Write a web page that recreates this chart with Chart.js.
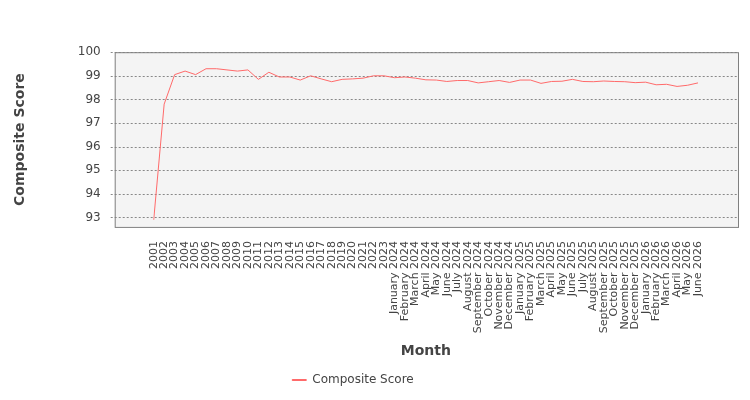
<!DOCTYPE html>
<html>
<head>
<meta charset="utf-8">
<script src="https://cdn.jsdelivr.net/npm/chart.js@4"></script>
<style>
  body { margin: 0; background: #fff; }
  #wrap { width: 750px; height: 400px; }
</style>
</head>
<body>
<div id="wrap"><canvas id="chart"></canvas></div>
<script>
const months = ['January', 'February', 'March', 'April', 'May', 'June', 'July', 'August', 'September', 'October', 'November', 'December'];
const yearLabels = ['2001','2002','2003','2004','2005','2006','2007','2008','2009','2010','2011','2012','2013','2014','2015','2016','2017','2018','2019','2020','2021','2022','2023'];
const monthLabels = months.map(m => m + ' 2024')
    .concat(months.map(m => m + ' 2025'))
    .concat(months.slice(0, 6).map(m => m + ' 2026'));
const labels = yearLabels.concat(monthLabels);

const compositeScore = [
    92.9, 97.8, 99.05, 99.2, 99.05, 99.3, 99.3, 99.25, 99.2, 99.25,
    98.85, 99.15, 98.95, 98.95, 98.82, 99.0, 98.87, 98.75, 98.85, 98.87,
    98.9, 99.0, 99.0,
    98.92, 98.95, 98.9, 98.83, 98.82, 98.76, 98.8, 98.8, 98.7, 98.75, 98.8, 98.72,
    98.82, 98.82, 98.68, 98.76, 98.77, 98.85, 98.76, 98.75, 98.78, 98.76, 98.75, 98.71,
    98.73, 98.62, 98.64, 98.55, 98.6, 98.7
];

const yTicks = [93, 94, 95, 96, 97, 98, 99, 100];
const font = { family: "'DejaVu Sans', sans-serif", size: 12 };
const PAD_L = 39, PAD_R = 40;

// grey plot box + dashed grid, wider than the chart area
const plotBg = {
    id: 'plotBg',
    beforeDatasetsDraw(chart) {
        const { ctx, chartArea: a, scales } = chart;
        const l = a.left - PAD_L, r = a.right + PAD_R;
        ctx.save();
        ctx.fillStyle = '#f4f4f4';
        ctx.fillRect(l, a.top, r - l, a.bottom - a.top);
        ctx.strokeStyle = '#888';
        ctx.setLineDash([2, 2]);
        yTicks.forEach(v => {
            const y = Math.round(scales.y.getPixelForValue(v)) + 0.5;
            ctx.beginPath(); ctx.moveTo(l - 4, y); ctx.lineTo(r, y); ctx.stroke();
        });
        ctx.setLineDash([]);
        ctx.strokeStyle = '#808080';
        ctx.strokeRect(l + 0.5, a.top + 0.5, r - l, a.bottom - a.top);
        ctx.restore();
    }
};

new Chart(document.getElementById('chart'), {
    type: 'line',
    data: {
        labels: labels,
        datasets: [{
            label: 'Composite Score',
            data: compositeScore,
            borderColor: '#ff6a6a',
            backgroundColor: '#ff6a6a',
            borderWidth: 1,
            pointRadius: 0,
            tension: 0
        }]
    },
    options: {
        responsive: true,
        maintainAspectRatio: false,
        animation: false,
        layout: { padding: { left: 8, right: 52, top: 9, bottom: 4 } },
        scales: {
            x: {
                offset: false,
                grid: { display: false },
                border: { display: false },
                ticks: { font: { family: "'DejaVu Sans', sans-serif", size: 11 }, color: '#444', autoSkip: false, maxRotation: 90, minRotation: 90, padding: 6 },
                title: { display: true, text: 'Month', font: { family: "'DejaVu Sans', sans-serif", size: 14, weight: 'bold' }, color: '#444' }
            },
            y: {
                min: 92.6,
                max: 100,
                afterBuildTicks(axis) {
                    axis.ticks = yTicks.map(v => ({ value: v }));
                },
                grid: { display: false },
                border: { display: false },
                ticks: { font: font, color: '#444', padding: PAD_L + 6 },
                title: { display: true, text: 'Composite Score', font: { family: "'DejaVu Sans', sans-serif", size: 14, weight: 'bold' }, color: '#444' }
            }
        },
        plugins: {
            legend: {
                position: 'bottom',
                labels: { font: font, color: '#444', boxWidth: 14, boxHeight: 1 }
            },
            tooltip: { enabled: false }
        }
    },
    plugins: [plotBg]
});
</script>
</body>
</html>
